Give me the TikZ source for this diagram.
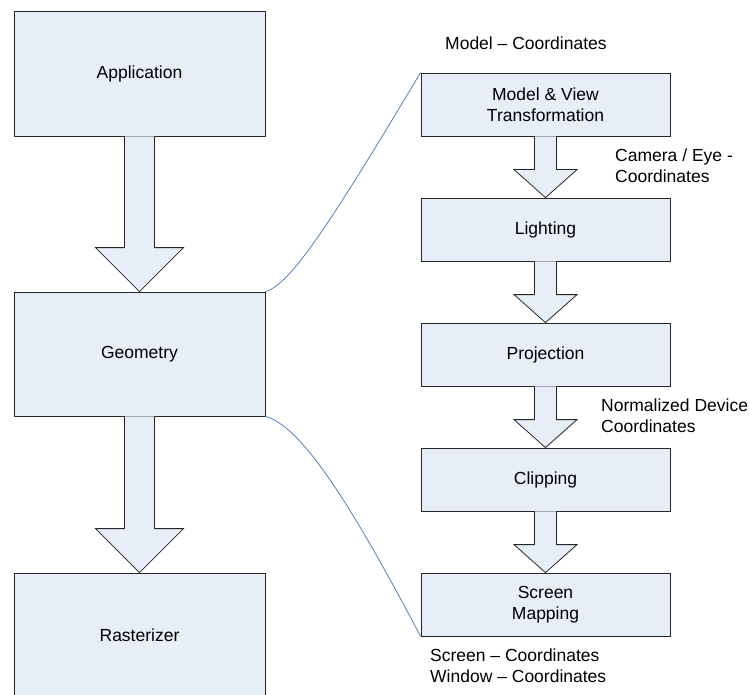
\documentclass[tikz,border=0pt]{standalone}
\usepackage{fontspec}
\setmainfont{Liberation Sans}
\usetikzlibrary{calc}
\definecolor{boxfill}{HTML}{E7EEF8}
\definecolor{linkblue}{HTML}{4F81BD}
\newcommand{\blockarrow}[5]{%
  \draw[fatarrow] ($(#1.south)+(-#3,0)$) -- ($(#2.north)+(-#3,-#5)$)
    -- ($(#2.north)+(-#4,-#5)$) -- (#2.north) -- ($(#2.north)+(#4,-#5)$)
    -- ($(#2.north)+(#3,-#5)$) -- ($(#1.south)+(#3,0)$);}

\begin{document}
\begin{tikzpicture}[x=1pt,y=-1pt,
            stage/.style={draw=black!85,fill=boxfill,line width=0.8pt,inner sep=0pt,
              align=center,font=\fontsize{17.5}{21}\selectfont},
            bigbox/.style={stage,minimum width=251,minimum height=125},
            smallbox/.style={stage,minimum width=249,minimum height=63},
            note/.style={inner sep=0pt,align=left,anchor=west,font=\fontsize{17.5}{21}\selectfont},
            fatarrow/.style={draw=black!85,fill=boxfill,line width=0.8pt,line join=miter},
            link/.style={draw=linkblue,line width=0.8pt}]
            \useasboundingbox (0,0) rectangle (749,695);
            \clip (0,0) rectangle (749,695);
            \node[bigbox] (app) at (139.5,73.5) {Application};
            \node[bigbox,minimum height=124] (geom) at (139.5,354) {Geometry};
            \node[bigbox] (rast) at (139.5,635.5) {Rasterizer};
            \node[smallbox] (mvt) at (545.5,104.5) {Model \& View\\Transformation};
            \node[smallbox] (light) at (545.5,229.5) {Lighting};
            \node[smallbox] (proj) at (545.5,354.5) {Projection};
            \node[smallbox] (clip) at (545.5,479.5) {Clipping};
            \node[smallbox] (smap) at (545.5,604.5) {Screen\\Mapping};
            \blockarrow{app}{geom}{15}{44}{44}
            \blockarrow{geom}{rast}{15}{44}{44}
            \blockarrow{mvt}{light}{11}{31.5}{28}
            \blockarrow{light}{proj}{11}{31.5}{28}
            \blockarrow{proj}{clip}{11}{31.5}{28}
            \blockarrow{clip}{smap}{11}{31.5}{28}
            \draw[link] (geom.north east) .. controls +(25,-7) and +(-91,152) .. (mvt.north west);
            \draw[link] (geom.south east) .. controls +(35,9) and +(-71,-135) .. (smap.south west);
            \node[note] (modelc) at (445,43) {Model -- Coordinates};
            \node[note] (eyec) at (615,166) {Camera / Eye -\\Coordinates};
            \node[note] (ndc) at (601,416) {Normalized Device\\Coordinates};
            \node[note] (screenc) at (430,666) {Screen -- Coordinates\\Window -- Coordinates};
\end{tikzpicture}
\end{document}
